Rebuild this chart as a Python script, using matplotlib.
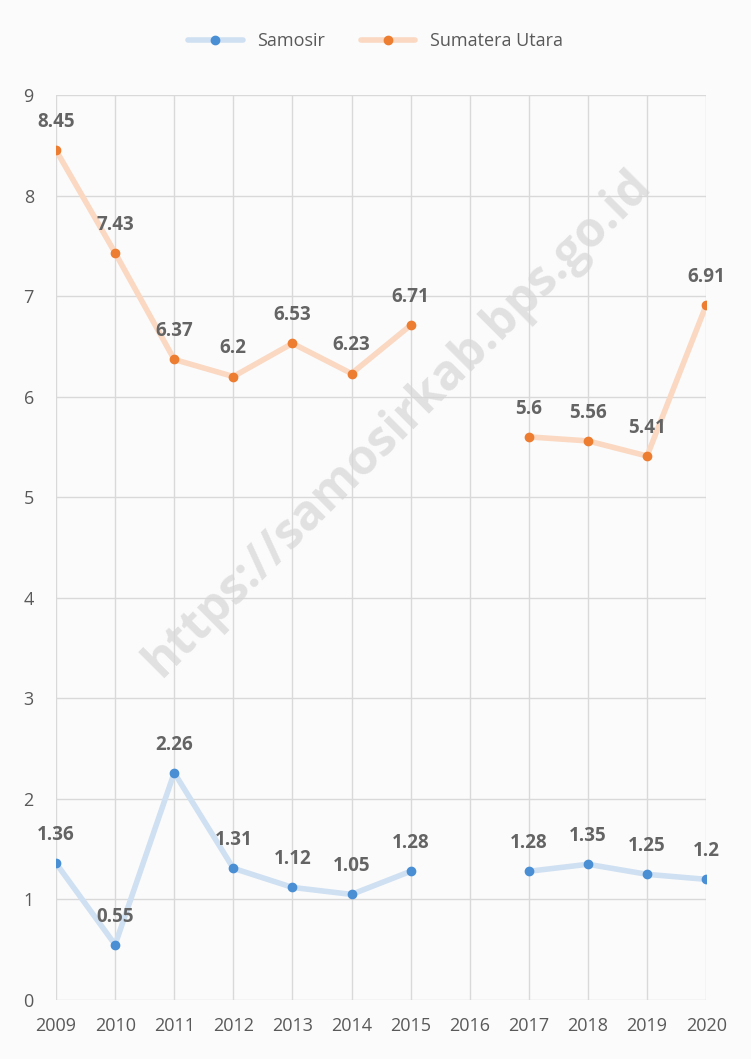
import numpy as np
import matplotlib.pyplot as plt

tahun = ['2009', '2010', '2011', '2012', '2013', '2014', '2015', '2016',
         '2017', '2018', '2019', '2020']
samosir = [1.36, 0.55, 2.26, 1.31, 1.12, 1.05, 1.28, np.nan, 1.28, 1.35, 1.25, 1.2]
sumut = [8.45, 7.43, 6.37, 6.2, 6.53, 6.23, 6.71, np.nan, 5.6, 5.56, 5.41, 6.91]

plt.rcParams['font.family'] = ['Open Sans', 'DejaVu Sans']

fig = plt.figure(figsize=(7.51, 10.59), dpi=100, facecolor='#fbfbfb')
ax = fig.add_axes([0.0746, 0.0557, 0.8657, 0.8546])
ax.set_facecolor('#fbfbfb')

x = np.arange(len(tahun))
ax.plot(x, samosir, color='#cfe0f2', lw=4, marker='o', ms=6,
        mfc='#4a8fd4', mec='#4a8fd4', label='Samosir', solid_capstyle='round')
ax.plot(x, sumut, color='#fad8c2', lw=4, marker='o', ms=6,
        mfc='#ed7d31', mec='#ed7d31', label='Sumatera Utara', solid_capstyle='round')

# label nilai
for seri in [samosir, sumut]:
    for i, v in enumerate(seri):
        if np.isnan(v):
            continue
        ax.annotate(f'{v:g}', (i, v), xytext=(0, 13), textcoords='offset points',
                    ha='center', va='bottom', fontsize=13.5, fontweight='bold',
                    color='#646464')

ax.set_xlim(0, len(tahun) - 1)
ax.set_ylim(0, 9)
ax.set_xticks(x)
ax.set_xticklabels(tahun)
ax.set_yticks(range(10))
ax.grid(True, color='#d9d9d9', lw=1)
ax.set_axisbelow(True)
for s in ax.spines.values():
    s.set_visible(False)
ax.tick_params(length=0, colors='#595959', labelsize=13)
ax.tick_params(axis='x', pad=12)
ax.tick_params(axis='y', pad=16)

fig.legend(loc='center', bbox_to_anchor=(0.5, 0.961), ncol=2, frameon=False,
           fontsize=13, labelcolor='#595959', handlelength=3, columnspacing=2)

# watermark
fig.text(0.53, 0.6, 'https://samosirkab.bps.go.id', rotation=45, fontsize=35,
         fontweight='bold', color='#d6d6d6', alpha=0.7, ha='center', va='center')

fig.savefig('out.png', dpi=100, facecolor=fig.get_facecolor())
